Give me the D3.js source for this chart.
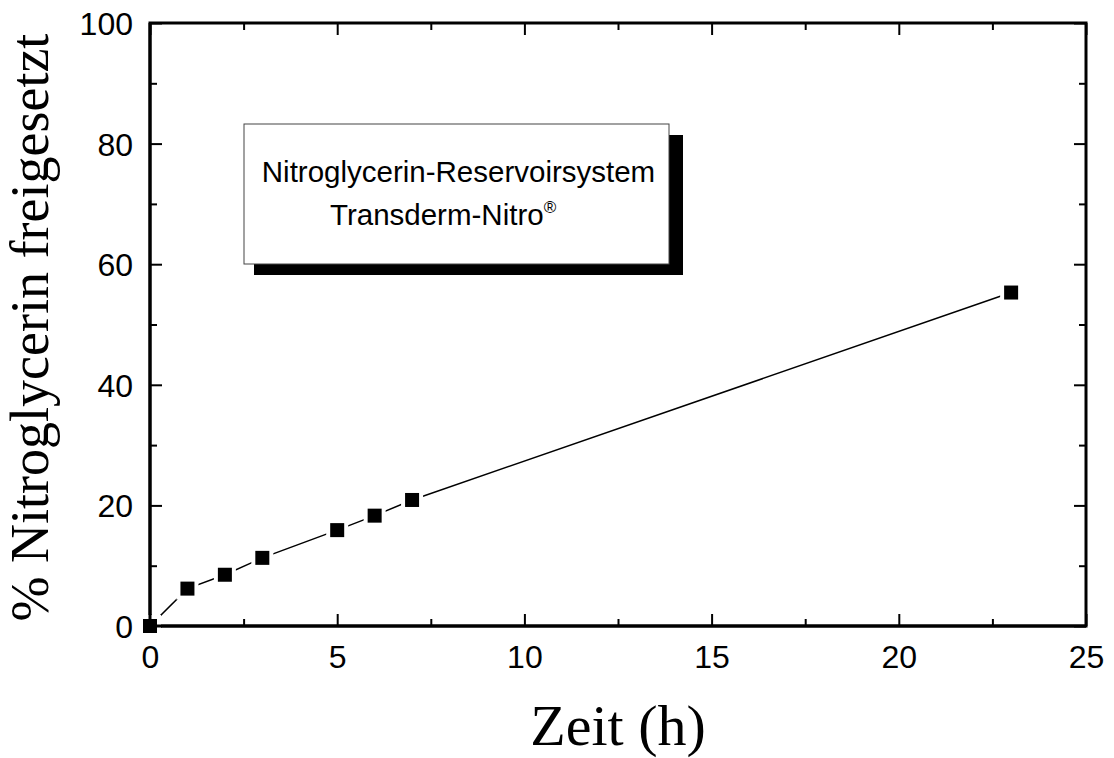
<!DOCTYPE html>
<html>
<head>
<meta charset="utf-8">
<script src="https://cdn.jsdelivr.net/npm/d3@7"></script>
<style>
  html, body { margin: 0; padding: 0; background: #fff; }
  svg { display: block; }
</style>
</head>
<body>
<svg id="chart" width="1114" height="758"></svg>
<script>
// ---- data ----
const hours = [0, 1, 2, 3, 5, 6, 7, 23];
const released = [0, 6.2, 8.5, 11.3, 15.9, 18.3, 20.9, 55.3];
const xTicks = [0, 5, 10, 15, 20, 25];
const yTicks = [0, 20, 40, 60, 80, 100];
const xMinorTicks = [2.5, 7.5, 12.5, 17.5, 22.5];
const yMinorTicks = [10, 30, 50, 70, 90];
const xTitle = "Zeit (h)";
const yTitle = "% Nitroglycerin freigesetzt";
const legendLines = ["Nitroglycerin-Reservoirsystem", "Transderm-Nitro"];

// ---- layout ----
const L = 150, R = 1086, T = 23, B = 626;
const svg = d3.select("#chart");
const x = d3.scaleLinear().domain([0, 25]).range([L, R]);
const y = d3.scaleLinear().domain([0, 100]).range([B, T]);

const tickFont = "'Liberation Sans', Arial, sans-serif";
const titleFont = "'Liberation Serif', 'Times New Roman', serif";

function styleAxis(g) {
  g.select(".domain").remove();
  g.selectAll(".tick line").attr("stroke", "#000").attr("stroke-width", 2);
  g.selectAll(".tick text").attr("font-family", tickFont).attr("font-size", 32).attr("fill", "#000");
}
const MAJ = 12, MIN = 7;

// bottom
svg.append("g").attr("transform", `translate(0,${B})`)
  .call(d3.axisBottom(x).tickValues(xTicks).tickSizeInner(-MAJ).tickSizeOuter(0).tickPadding(0).tickFormat(d3.format("d")))
  .call(styleAxis)
  .call(g => g.selectAll(".tick text").attr("dy", null).attr("y", 42));
svg.append("g").attr("transform", `translate(0,${B})`)
  .call(d3.axisBottom(x).tickValues(xMinorTicks).tickSizeInner(-MIN).tickSizeOuter(0).tickFormat(""))
  .call(styleAxis);
// top
svg.append("g").attr("transform", `translate(0,${T})`)
  .call(d3.axisTop(x).tickValues(xTicks).tickSizeInner(-MAJ).tickSizeOuter(0).tickFormat(""))
  .call(styleAxis);
svg.append("g").attr("transform", `translate(0,${T})`)
  .call(d3.axisTop(x).tickValues(xMinorTicks).tickSizeInner(-MIN).tickSizeOuter(0).tickFormat(""))
  .call(styleAxis);
// left
svg.append("g").attr("transform", `translate(${L},0)`)
  .call(d3.axisLeft(y).tickValues(yTicks).tickSizeInner(-MAJ).tickSizeOuter(0).tickPadding(0).tickFormat(d3.format("d")))
  .call(styleAxis)
  .call(g => g.selectAll(".tick text").attr("x", -17).attr("dy", "0.36em"));
svg.append("g").attr("transform", `translate(${L},0)`)
  .call(d3.axisLeft(y).tickValues(yMinorTicks).tickSizeInner(-MIN).tickSizeOuter(0).tickFormat(""))
  .call(styleAxis);
// right
svg.append("g").attr("transform", `translate(${R},0)`)
  .call(d3.axisRight(y).tickValues(yTicks).tickSizeInner(-MAJ).tickSizeOuter(0).tickFormat(""))
  .call(styleAxis);
svg.append("g").attr("transform", `translate(${R},0)`)
  .call(d3.axisRight(y).tickValues(yMinorTicks).tickSizeInner(-MIN).tickSizeOuter(0).tickFormat(""))
  .call(styleAxis);

// frame
svg.append("rect").attr("x", L).attr("y", T).attr("width", R - L).attr("height", B - T)
  .attr("fill", "none").attr("stroke", "#000").attr("stroke-width", 3);

// legend box with shadow
const bx = 244, by = 124, bw = 425, bh = 140;
svg.append("rect").attr("x", bx + 10).attr("y", by + 11).attr("width", bw + 4).attr("height", bh)
  .attr("fill", "#000");
svg.append("rect").attr("x", bx).attr("y", by).attr("width", bw).attr("height", bh)
  .attr("fill", "#fff").attr("stroke", "#444").attr("stroke-width", 1);
const lg = svg.append("g").attr("font-family", tickFont).attr("font-size", 29.5).attr("fill", "#000");
lg.append("text").attr("x", bx + bw / 2 + 2).attr("y", 182).attr("text-anchor", "middle").text(legendLines[0]);
const t2 = lg.append("text").attr("x", 330).attr("y", 225);
t2.append("tspan").text(legendLines[1]);
t2.append("tspan").attr("font-size", 17).attr("dy", -12).text("®");

// data line
const pts = hours.map((h, i) => [h, released[i]]);
svg.append("path").datum(pts)
  .attr("d", d3.line().x(d => x(d[0])).y(d => y(d[1])))
  .attr("fill", "none").attr("stroke", "#000").attr("stroke-width", 1.5);

// markers with white halo
const S = 14, H = 4;
svg.append("g").selectAll("rect").data(pts).join("rect")
  .attr("x", d => x(d[0]) - S / 2 - H).attr("y", d => y(d[1]) - S / 2 - H)
  .attr("width", S + 2 * H).attr("height", S + 2 * H).attr("fill", "#fff");
svg.append("g").selectAll("rect").data(pts).join("rect")
  .attr("x", d => x(d[0]) - S / 2).attr("y", d => y(d[1]) - S / 2)
  .attr("width", S).attr("height", S).attr("fill", "#000");

// redraw frame edges over the halos at the corner
svg.append("path").attr("d", `M${L},${T}V${B}H${R}`).attr("fill", "none").attr("stroke", "#000").attr("stroke-width", 3);

// titles
svg.append("text").attr("x", (L + R) / 2).attr("y", 745).attr("text-anchor", "middle")
  .attr("font-family", titleFont).attr("font-size", 58).attr("fill", "#000").text(xTitle);
svg.append("text").attr("transform", `translate(48,${(35 + 620) / 2}) rotate(-90)`)
  .attr("text-anchor", "middle")
  .attr("font-family", titleFont).attr("font-size", 54).attr("fill", "#000").text(yTitle);
</script>
</body>
</html>
